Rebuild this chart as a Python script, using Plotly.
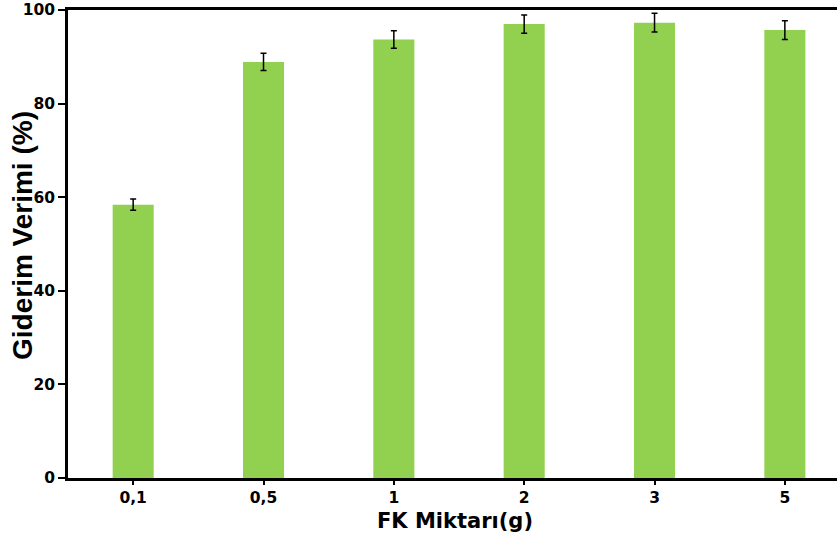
import plotly.graph_objects as go

categories = ["0,1", "0,5", "1", "2", "3", "5"]
values = [58.4, 88.9, 93.7, 97.0, 97.3, 95.7]
errors = [1.2, 1.85, 1.85, 1.95, 2.0, 2.0]
y_ticks = [0, 20, 40, 60, 80, 100]

fig = go.Figure()
fig.add_trace(go.Bar(
    x=categories, y=values,
    marker=dict(color="#92D050", line=dict(width=0)),
    width=0.315,
    error_y=dict(type="data", array=errors, visible=True, color="#000000", thickness=1.5, width=3),
))

wide_font = "DejaVu Sans, Arial, sans-serif"
arial_font = "Liberation Sans, Arial, sans-serif"
tick_font = dict(size=15.5, family=wide_font, color="black", weight="bold")
fig.update_layout(
    width=837, height=540,
    margin=dict(l=68, r=0, t=10, b=62),
    paper_bgcolor="white", plot_bgcolor="white",
    showlegend=False,
    font=dict(family=wide_font, color="black"),
    xaxis=dict(
        type="category", range=[-0.5, 5.4],
        showline=True, linecolor="black", linewidth=2.5, mirror=True,
        ticks="outside", ticklen=4, tickwidth=2, tickcolor="black",
        tickfont=tick_font,
        showgrid=False, zeroline=False,
    ),
    yaxis=dict(
        range=[0, 100], tickvals=y_ticks,
        showline=True, linecolor="black", linewidth=2.5,
        ticks="outside", ticklen=7, tickwidth=2, tickcolor="black",
        tickfont=tick_font,
        showgrid=False, zeroline=False,
    ),
    annotations=[
        dict(text="<b>FK Miktarı(g)</b>", xref="paper", yref="paper",
             x=(455 - 68) / 769, y=-(521 - 478) / 468, xanchor="center", yanchor="middle",
             showarrow=False, borderpad=0,
             font=dict(size=21, family=wide_font, color="black")),
        dict(text="<b>Giderim Verimi (%)</b>", xref="paper", yref="paper",
             x=-(68 - 23) / 769, y=(478 - 236) / 468, xanchor="center", yanchor="middle", textangle=-90,
             showarrow=False, font=dict(size=28, family=arial_font, color="black")),
    ],
)

fig.write_html("out.html")
